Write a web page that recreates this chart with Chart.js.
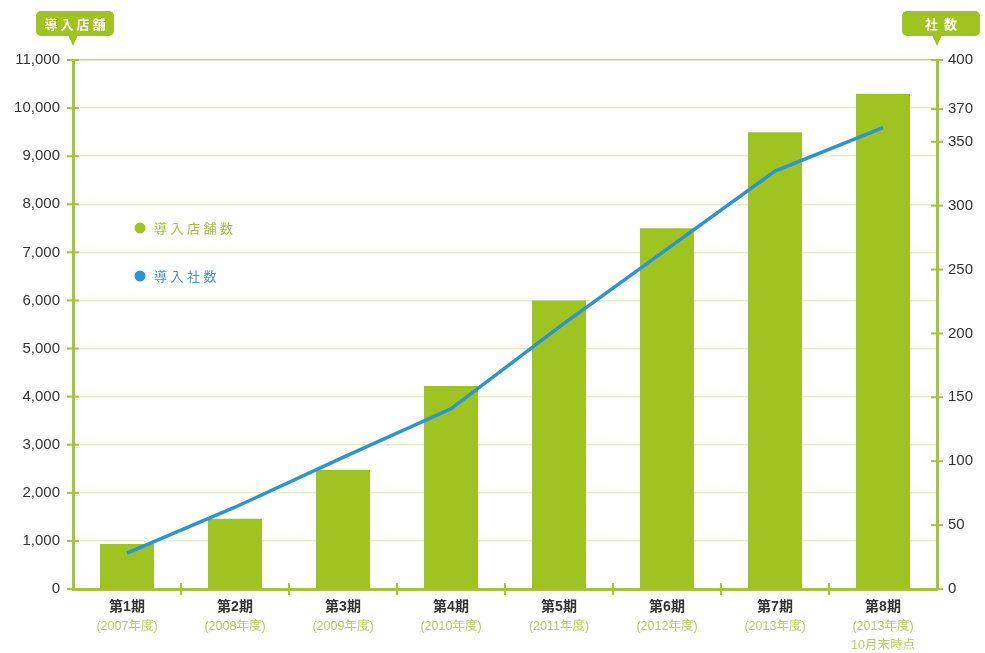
<!DOCTYPE html>
<html lang="ja">
<head>
<meta charset="utf-8">
<script src="https://cdn.jsdelivr.net/npm/chart.js@4.4.1/dist/chart.umd.min.js"></script>
<style>
html, body { margin: 0; padding: 0; background: #fff; }
#marco { width: 985px; height: 653px; position: relative; }
</style>
</head>
<body>
<div id="marco"><canvas id="grafico"></canvas></div>
<script>
// datos
const periods = ['第1期', '第2期', '第3期', '第4期', '第5期', '第6期', '第7期', '第8期'];
const years = ['(2007年度)', '(2008年度)', '(2009年度)', '(2010年度)', '(2011年度)', '(2012年度)', '(2013年度)', '(2013年度)'];
const notes = ['', '', '', '', '', '', '', '10月末時点'];
const storeCounts = [935, 1460, 2480, 4220, 6000, 7500, 9500, 10300];
const companyCounts = [28, 64, 103, 141, 205, 266, 327, 361];
const leftTicks = [0, 1000, 2000, 3000, 4000, 5000, 6000, 7000, 8000, 9000, 10000, 11000];
const rightTicks = [0, 50, 100, 150, 200, 250, 300, 350, 370, 400];

const verde = '#9fc320';
const verdeEje = '#a3c53a';
const azul = '#2b95d3';
const numFont = "'Liberation Sans', Arial, sans-serif";
const jpFont = "'Liberation Sans', 'Noto Sans CJK JP', sans-serif";

// the right axis is linear up to 350, then compressed for 370 / 400
const RIGHT_MAX = 414;
function rightValue(v) {
  if (v <= 350) return v;
  return 350 + (v - 350) * (RIGHT_MAX - 350) / 50;
}

// texto con espaciado entre letras
function spacedText(ctx, text, x, y, spacing, align) {
  const chars = [...text];
  const widths = chars.map(c => ctx.measureText(c).width);
  const total = widths.reduce((a, b) => a + b, 0) + spacing * (chars.length - 1);
  let cx = align === 'center' ? x - total / 2 : x;
  ctx.textAlign = 'left';
  chars.forEach((c, i) => {
    ctx.fillText(c, cx, y);
    cx += widths[i] + spacing;
  });
}

function tag(ctx, cx, axisX, text, spacing) {
  const w = 78, h = 25, top = 11, r = 5;
  ctx.fillStyle = verde;
  ctx.beginPath();
  ctx.roundRect(cx - w / 2, top, w, h, r);
  ctx.fill();
  ctx.beginPath();
  ctx.moveTo(axisX - 5, top + h - 1);
  ctx.lineTo(axisX + 5, top + h - 1);
  ctx.lineTo(axisX, top + h + 10);
  ctx.closePath();
  ctx.fill();
  ctx.fillStyle = '#fff';
  ctx.font = "bold 13px 'Noto Sans CJK JP', sans-serif";
  ctx.textBaseline = 'middle';
  spacedText(ctx, text, cx, top + h / 2 + 1, spacing, 'center');
}

function line(ctx, x1, y1, x2, y2) {
  ctx.beginPath();
  ctx.moveTo(x1, y1);
  ctx.lineTo(x2, y2);
  ctx.stroke();
}

const decor = {
  id: 'decor',
  afterDraw(chart) {
    const { ctx, chartArea: a, scales } = chart;
    ctx.save();

    // marcas de los ejes
    ctx.strokeStyle = verdeEje;
    ctx.lineWidth = 2;
    scales.y.ticks.forEach(t => {
      const y = scales.y.getPixelForValue(t.value);
      line(ctx, a.left - 6, y, a.left + 6, y);
    });
    scales.y1.ticks.forEach(t => {
      const y = scales.y1.getPixelForValue(t.value);
      line(ctx, a.right - 6, y, a.right + 6, y);
    });
    for (let i = 1; i < periods.length; i++) {
      const x = (scales.x.getPixelForValue(i - 1) + scales.x.getPixelForValue(i)) / 2;
      line(ctx, x, a.bottom - 6, x, a.bottom + 6);
    }

    // etiquetas eje x
    ctx.textBaseline = 'middle';
    ctx.textAlign = 'center';
    periods.forEach((p, i) => {
      const x = scales.x.getPixelForValue(i);
      ctx.fillStyle = '#333';
      ctx.font = 'bold 14px ' + jpFont;
      ctx.fillText(p, x, a.bottom + 18);
      ctx.fillStyle = '#b7cf62';
      ctx.font = '12.5px ' + jpFont;
      ctx.fillText(years[i], x, a.bottom + 38);
      if (notes[i]) ctx.fillText(notes[i], x, a.bottom + 57);
    });

    // etiquetas de ejes
    tag(ctx, a.left + 2, a.left, '導入店舗', 3);
    tag(ctx, a.right + 4, a.right, '社数', 6);

    // leyenda
    const items = [
      { label: chart.data.datasets[1].label, color: verde, text: '#a6c03c', y: 228 },
      { label: chart.data.datasets[0].label, color: azul, text: '#3f92d0', y: 276 }
    ];
    items.forEach(it => {
      ctx.fillStyle = it.color;
      ctx.beginPath();
      ctx.arc(140, it.y, 5.5, 0, Math.PI * 2);
      ctx.fill();
      ctx.fillStyle = it.text;
      ctx.font = "13px 'Noto Sans CJK JP', sans-serif";
      ctx.textBaseline = 'middle';
      spacedText(ctx, it.label, 154, it.y, 3.5, 'left');
    });

    ctx.restore();
  }
};

const ctx = document.getElementById('grafico').getContext('2d');

const grafico = new Chart(ctx, {
  data: {
    labels: periods,
    datasets: [{
      type: 'line',
      label: '導入社数',
      data: companyCounts,
      yAxisID: 'y1',
      borderColor: azul,
      borderWidth: 3.5,
      pointRadius: 0,
      tension: 0,
      fill: false,
      order: 0
    }, {
      type: 'bar',
      label: '導入店舗数',
      data: storeCounts,
      yAxisID: 'y',
      backgroundColor: verde,
      barPercentage: 1,
      categoryPercentage: 0.5,
      order: 1
    }]
  },
  options: {
    responsive: true,
    maintainAspectRatio: false,
    animation: false,
    layout: { padding: { top: 60, left: 0, right: 0, bottom: 0 } },
    plugins: {
      legend: { display: false },
      tooltip: { enabled: false }
    },
    scales: {
      x: {
        offset: true,
        grid: { display: false, drawTicks: false },
        border: { color: verdeEje, width: 3 },
        ticks: { display: false },
        afterFit: s => { s.height = 64; }
      },
      y: {
        position: 'left',
        min: 0,
        max: 11000,
        afterBuildTicks: s => { s.ticks = leftTicks.map(v => ({ value: v })); },
        ticks: {
          padding: 13,
          color: '#333',
          font: { family: numFont, size: 15 },
          callback: v => v.toLocaleString('en-US')
        },
        grid: {
          color: c => c.tick && c.tick.value === 11000 ? '#c3d978' : '#e8eec7',
          lineWidth: 1.5,
          drawTicks: false
        },
        border: { color: verdeEje, width: 3 },
        afterFit: s => { s.width = 73; }
      },
      y1: {
        position: 'right',
        min: 0,
        max: RIGHT_MAX,
        afterBuildTicks: s => { s.ticks = rightTicks.map(v => ({ value: rightValue(v) })); },
        ticks: {
          padding: 11,
          color: '#333',
          font: { family: numFont, size: 15 },
          callback: (v, i) => String(rightTicks[i])
        },
        grid: { drawOnChartArea: false, drawTicks: false },
        border: { color: verdeEje, width: 3 },
        afterFit: s => { s.width = 48; }
      }
    }
  },
  plugins: [decor]
});
</script>
</body>
</html>
